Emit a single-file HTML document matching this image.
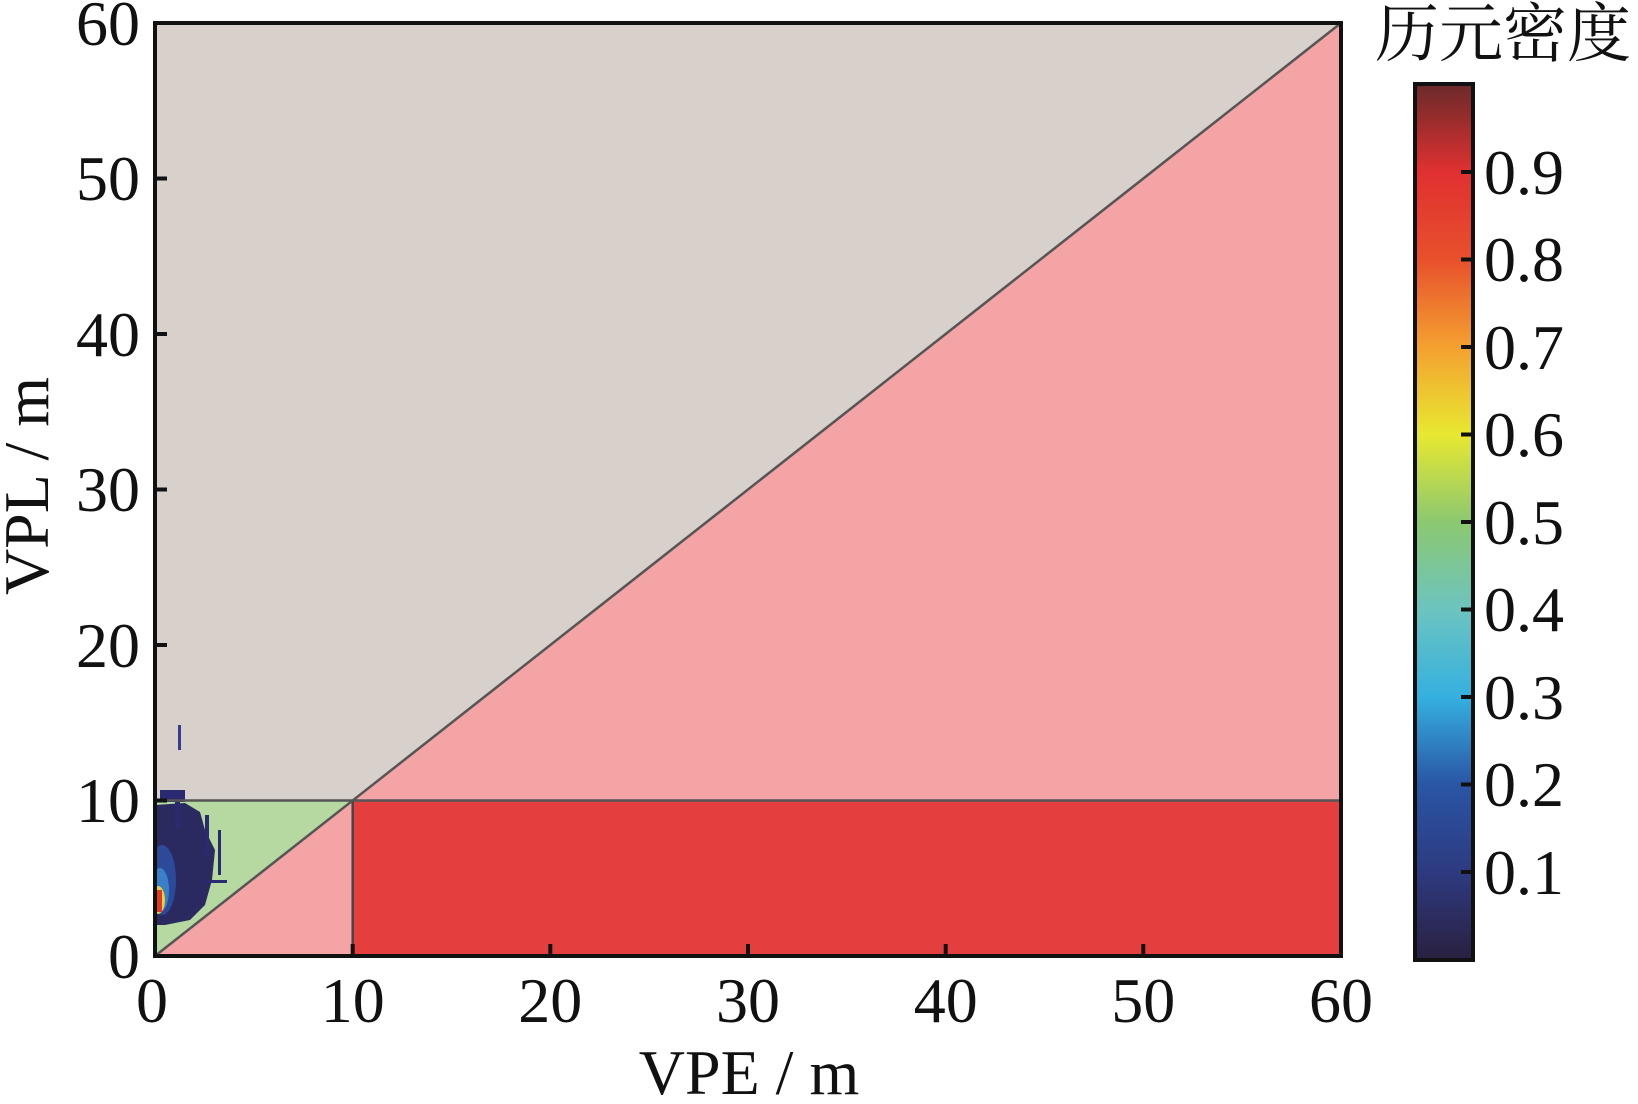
<!DOCTYPE html>
<html><head><style>
html,body{margin:0;padding:0;background:#fff;}
text{font-family:"Liberation Serif","Noto Serif CJK SC",serif;fill:#111;}
</style></head><body>
<svg width="1638" height="1099" viewBox="0 0 1638 1099" xmlns="http://www.w3.org/2000/svg">
<defs>
<clipPath id="pc"><rect x="155" y="23" width="1186" height="933"/></clipPath>
<linearGradient id="cb" x1="0" y1="1" x2="0" y2="0">
<stop offset="0" stop-color="#2a2040"/>
<stop offset="0.1" stop-color="#2d3a80"/>
<stop offset="0.2" stop-color="#2a55a5"/>
<stop offset="0.3" stop-color="#35b0e0"/>
<stop offset="0.4" stop-color="#6cc4c0"/>
<stop offset="0.5" stop-color="#8cc870"/>
<stop offset="0.6" stop-color="#e8e830"/>
<stop offset="0.7" stop-color="#f4a030"/>
<stop offset="0.8" stop-color="#e8502c"/>
<stop offset="0.9" stop-color="#e03030"/>
<stop offset="1" stop-color="#6a2a2a"/>
</linearGradient>
</defs>
<rect x="155" y="23" width="1186" height="933" fill="#d8d0cb"/>
<polygon points="155,956 1341,23 1341,956" fill="#f4a4a5"/>
<rect x="352.7" y="800.5" width="988.3" height="155.5" fill="#e53e3f"/>
<polygon points="155,956 352.7,800.5 155,800.5" fill="#b5d9a1"/>
<g clip-path="url(#pc)">
<path d="M155,805 L185,803 L200,812 L205,830 L215,850 L212,880 L205,905 L190,920 L165,925 L155,925 Z" fill="#2a2a60"/>
<rect x="175" y="798" width="5" height="30" fill="#2a2a70"/>
<rect x="205" y="815" width="4" height="40" fill="#2a2a70"/>
<rect x="218" y="830" width="3" height="45" fill="#2a2a70"/>
<rect x="205" y="880" width="22" height="3" fill="#2a2a70"/>
<rect x="178" y="725" width="3" height="25" fill="#3a3a90"/>
<rect x="160" y="790" width="25" height="12" fill="#2a2a70"/>
<ellipse cx="162" cy="880" rx="14" ry="35" fill="#2d4a9a"/>
<ellipse cx="160" cy="890" rx="9" ry="22" fill="#3a80c8"/>
<ellipse cx="158" cy="900" rx="7" ry="14" fill="#e8d040"/>
<rect x="155" y="890" width="7" height="22" fill="#e03a20"/>
</g>
<line x1="155" y1="800.5" x2="1341" y2="800.5" stroke="#555" stroke-width="2.5"/>
<line x1="352.7" y1="800.5" x2="352.7" y2="956" stroke="#444" stroke-width="2.5"/>
<line x1="155" y1="956" x2="1341" y2="23" stroke="#555" stroke-width="2.5"/>
<rect x="155" y="23" width="1186" height="933" fill="none" stroke="#111" stroke-width="4"/>
<g stroke="#111" stroke-width="4">
<line x1="352.7" y1="956" x2="352.7" y2="944"/>
<line x1="550.3" y1="956" x2="550.3" y2="944"/>
<line x1="748" y1="956" x2="748" y2="944"/>
<line x1="945.7" y1="956" x2="945.7" y2="944"/>
<line x1="1143.3" y1="956" x2="1143.3" y2="944"/>
<line x1="155" y1="800.5" x2="167" y2="800.5"/>
<line x1="155" y1="645" x2="167" y2="645"/>
<line x1="155" y1="489.5" x2="167" y2="489.5"/>
<line x1="155" y1="334" x2="167" y2="334"/>
<line x1="155" y1="178.5" x2="167" y2="178.5"/>
</g>
<g font-size="64" text-anchor="middle">
<text x="152" y="1022">0</text>
<text x="352.7" y="1022">10</text>
<text x="550.3" y="1022">20</text>
<text x="748" y="1022">30</text>
<text x="945.7" y="1022">40</text>
<text x="1143.3" y="1022">50</text>
<text x="1341" y="1022">60</text>
</g>
<g font-size="64" text-anchor="end">
<text x="140" y="978">0</text>
<text x="140" y="822">10</text>
<text x="140" y="667">20</text>
<text x="140" y="511">30</text>
<text x="140" y="356">40</text>
<text x="140" y="200">50</text>
<text x="140" y="45">60</text>
</g>
<text x="749" y="1094" font-size="64" text-anchor="middle">VPE / m</text>
<text transform="translate(48,486) rotate(-90)" font-size="64" text-anchor="middle">VPL / m</text>
<rect x="1415" y="84" width="58" height="876" fill="url(#cb)" stroke="#111" stroke-width="4"/>
<g stroke="#111" stroke-width="4">
<line x1="1461" y1="172" x2="1473" y2="172"/>
<line x1="1461" y1="259.5" x2="1473" y2="259.5"/>
<line x1="1461" y1="347" x2="1473" y2="347"/>
<line x1="1461" y1="434.5" x2="1473" y2="434.5"/>
<line x1="1461" y1="522" x2="1473" y2="522"/>
<line x1="1461" y1="609.5" x2="1473" y2="609.5"/>
<line x1="1461" y1="697" x2="1473" y2="697"/>
<line x1="1461" y1="784.5" x2="1473" y2="784.5"/>
<line x1="1461" y1="872" x2="1473" y2="872"/>
</g>
<g font-size="64">
<text x="1484" y="194">0.9</text>
<text x="1484" y="281">0.8</text>
<text x="1484" y="369">0.7</text>
<text x="1484" y="456">0.6</text>
<text x="1484" y="544">0.5</text>
<text x="1484" y="631">0.4</text>
<text x="1484" y="719">0.3</text>
<text x="1484" y="806">0.2</text>
<text x="1484" y="894">0.1</text>
</g>
<text x="1375" y="56" font-size="64">历元密度</text>
</svg>
</body></html>
